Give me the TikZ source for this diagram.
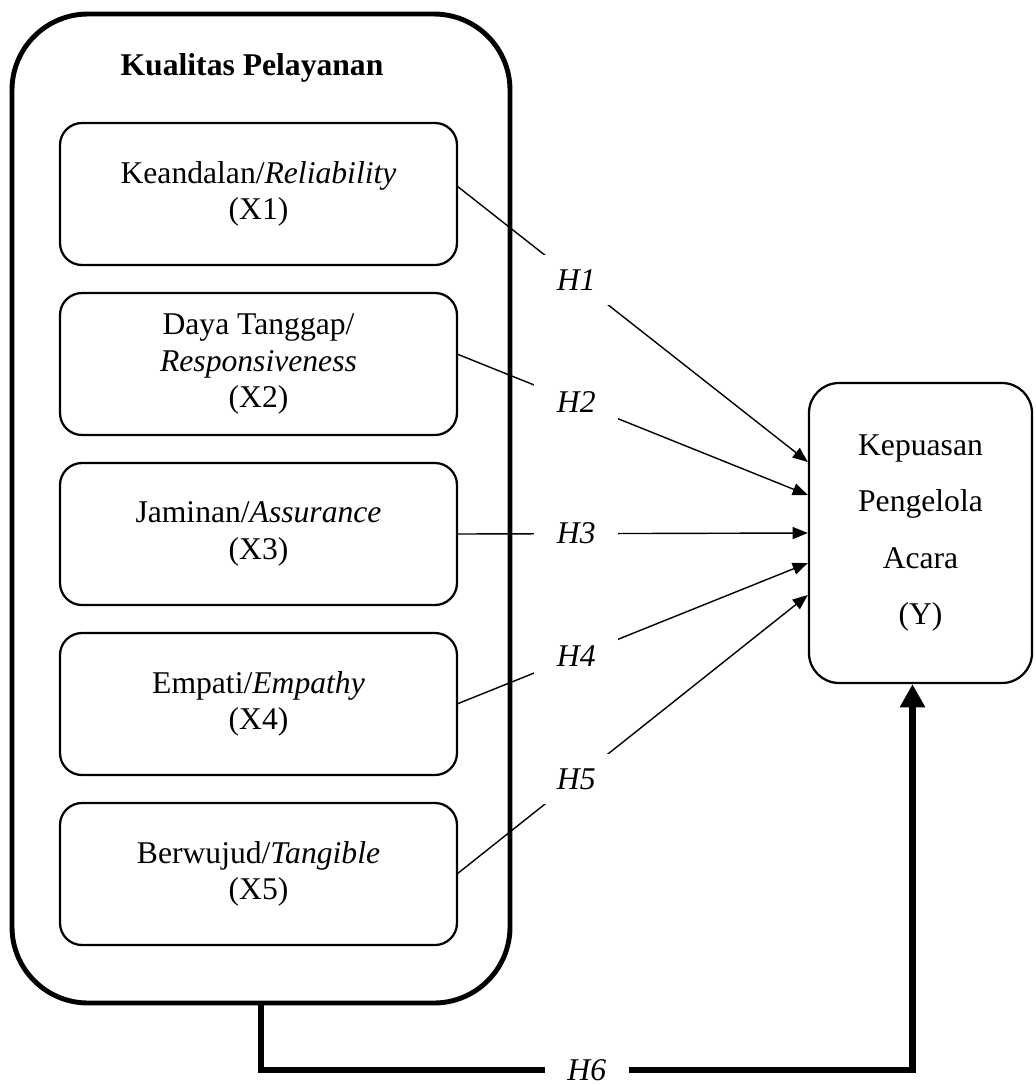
\documentclass[tikz,border=0pt]{standalone}
\usepackage{fontspec}
\setmainfont{Liberation Serif}
\usetikzlibrary{positioning,arrows.meta,calc}

\begin{document}
\begin{tikzpicture}[
  txt/.style={font=\fontsize{22.5}{26}\selectfont},
  dim/.style={txt, draw, line width=1.6pt, rounded corners=0.55cm, minimum width=9.925cm, minimum height=3.55cm, align=center, inner sep=0pt, outer sep=0pt},
  outerbox/.style={draw, line width=3.5pt, rounded corners=1.9cm, minimum width=12.45cm, minimum height=24.725cm, inner sep=0pt, outer sep=0pt},
  hyp/.style={font=\fontsize{22.5}{26}\selectfont\itshape, fill=white, minimum width=2.1cm, minimum height=1.25cm, inner sep=0pt, pos=0.34},
  arr/.style={-{Triangle[length=0.38cm, width=0.3cm]}, line width=1pt},
  bigarr/.style={-{Triangle[length=0.58cm, width=0.6cm]}, line width=4.5pt},
]
\useasboundingbox (0,0) rectangle (25.9,-27.125);

% --- Kualitas Pelayanan ---
\node[outerbox] (kp) at (6.525,-12.7125) {};
\node[font=\fontsize{22.5}{26}\selectfont\bfseries] (title) at (6.3,-1.7) {Kualitas Pelayanan};

% --- dimensions X1..X5 ---
\node[dim] (x1) at (6.4625,-4.85) {Keandalan/\textit{Reliability}\\(X1)};
\node[dim, below=0.7cm of x1] (x2) {Daya Tanggap/\\\textit{Responsiveness}\\(X2)};
\node[dim, below=0.7cm of x2] (x3) {Jaminan/\textit{Assurance}\\(X3)};
\node[dim, below=0.7cm of x3] (x4) {Empati/\textit{Empathy}\\(X4)};
\node[dim, below=0.7cm of x4] (x5) {Berwujud/\textit{Tangible}\\(X5)};

% --- Y ---
\node[draw, line width=1.6pt, rounded corners=0.75cm, minimum width=5.575cm, minimum height=7.5cm,
  align=center, font=\fontsize{22.5}{40}\selectfont] (yv) at (23.0125,-13.325)
  {Kepuasan\\Pengelola\\Acara\\(Y)};

% --- hypotheses ---
\draw[arr] ($(x1.east)+(0,0.2)$) -- node[hyp] {H1} ($(yv.west)+(0,1.775)$);
\draw[arr] ($(x2.east)+(0,0.25)$) -- node[hyp] {H2} ($(yv.west)+(0,0.95)$);
\draw[arr] (x3.east) -- node[hyp] {H3} (yv.west);
\draw[arr] (x4.east) -- node[hyp] {H4} ($(yv.west)+(0,-0.75)$);
\draw[arr] (x5.east) -- node[hyp] {H5} ($(yv.west)+(0,-1.55)$);

% simultaneous effect
\draw[bigarr] (kp.south) -- ++(0,-1.675) -| node[hyp, pos=0.25] {H6} ($(yv.south)+(-0.2,0)$);
\end{tikzpicture}
\end{document}
